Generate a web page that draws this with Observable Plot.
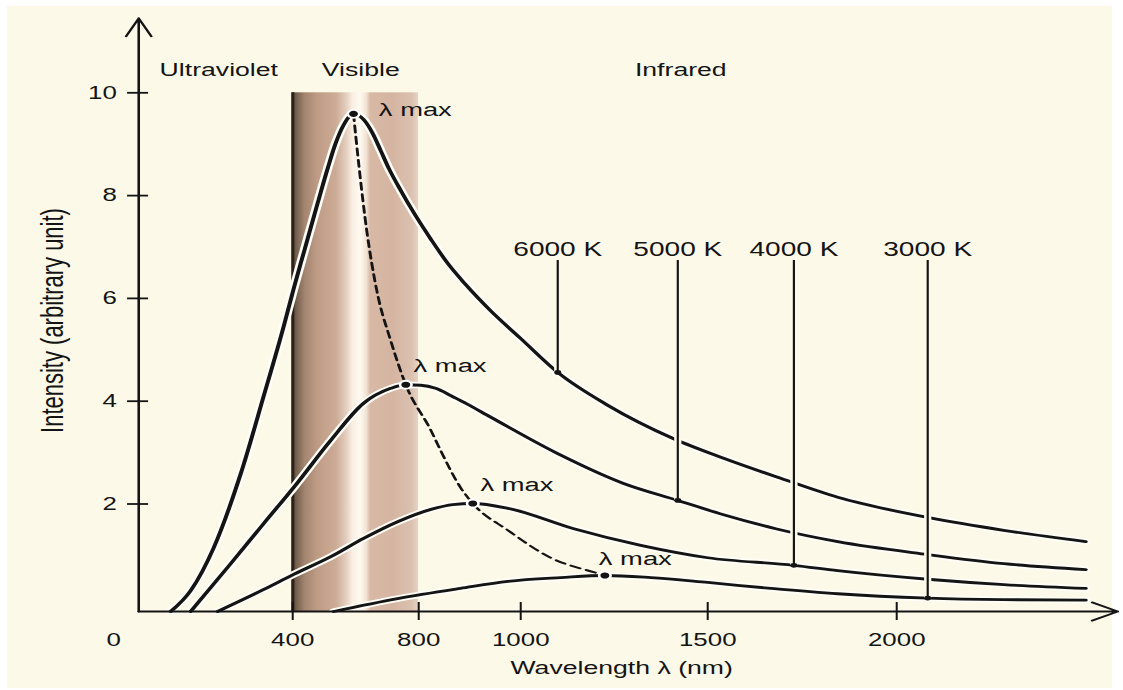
<!DOCTYPE html>
<html>
<head>
<meta charset="utf-8">
<script src="https://cdn.jsdelivr.net/npm/d3@7"></script>
<script src="https://cdn.jsdelivr.net/npm/@observablehq/plot@0.6"></script>
<style>
  html, body { margin: 0; padding: 0; background: #ffffff; width: 1123px; height: 690px; overflow: hidden; }
  #paper { position: absolute; left: 7px; top: 6px; width: 1105px; height: 682px; background: #fdf9e9; }
  #chart { position: absolute; left: 0; top: 0; }
</style>
</head>
<body>
<div id="paper"></div>
<div id="chart"></div>
<script>
// ---------------- data ----------------
const xTicks = [400, 800, 1000, 1500, 2000];
const yTicks = [2, 4, 6, 8, 10];
const xBreaks = [0, 400, 800, 1000, 1500, 2000, 2500];   // schematic (non-linear) wavelength axis
const originLabel = ["0"];

const temps = ["6000 K", "5000 K", "4000 K", "3000 K"];

const wl6000  = [83, 135, 195, 265, 325, 377, 403, 435, 479, 511, 537, 562, 593, 625, 654, 679, 705, 743, 784, 824, 857, 892, 941, 1000, 1099, 1233, 1409, 1542, 1693, 1844, 2082, 2283, 2500];
const int6000 = [0, 0.39, 1.19, 2.59, 4.11, 5.47, 6.19, 6.89, 7.85, 8.53, 9.03, 9.38, 9.59, 9.48, 9.21, 8.88, 8.53, 8.10, 7.67, 7.15, 6.68, 6.27, 5.76, 5.22, 4.56, 3.92, 3.27, 2.89, 2.50, 2.13, 1.75, 1.51, 1.30];

const wl5000  = [135, 239, 325, 403, 521, 625, 711, 759, 804, 833, 863, 892, 941, 1099, 1275, 1420, 1542, 1680, 1844, 2082, 2283, 2500];
const int5000 = [0, 0.89, 1.64, 2.32, 3.24, 3.96, 4.25, 4.32, 4.31, 4.25, 4.11, 3.96, 3.69, 2.98, 2.40, 2.07, 1.80, 1.54, 1.30, 1.06, 0.89, 0.78];

const wl4000  = [205, 325, 403, 521, 625, 733, 824, 867, 906, 975, 1142, 1321, 1500, 1728, 1844, 2082, 2283, 2500];
const int4000 = [0, 0.41, 0.69, 1.02, 1.36, 1.67, 1.90, 1.99, 2.01, 1.92, 1.54, 1.23, 1.00, 0.86, 0.76, 0.60, 0.50, 0.43];

const wl3000  = [530, 733, 882, 975, 1107, 1225, 1348, 1500, 1667, 1844, 2082, 2283, 2500];
const int3000 = [0, 0.24, 0.43, 0.56, 0.63, 0.67, 0.63, 0.54, 0.43, 0.33, 0.25, 0.22, 0.21];

const peakWl  = [593, 759, 906, 1225];      // λ max of each curve
const peakInt = [9.59, 4.32, 2.01, 0.67];

const tagWl  = [1099, 1420, 1728, 2082];    // where each temperature label points
const tagInt = [4.56, 2.07, 0.86, 0.25];

const wienWl  = [593, 610, 635, 667, 711, 759, 824, 843, 882, 906, 975, 1080, 1206, 1225];
const wienInt = [9.59, 8.59, 7.32, 6.15, 5.18, 4.32, 3.43, 3.04, 2.32, 2.01, 1.51, 1.00, 0.71, 0.67];

const regions  = ["Ultraviolet", "Visible", "Infrared"];
const regionWl = [208, 616, 1428];
const visibleBand = [400, 800];

const yLabel = "Intensity (arbitrary unit)";
const xLabel = "Wavelength λ (nm)";
const peakLabel = "λ max";

// ---------------- tables ----------------
const wls  = [wl6000, wl5000, wl4000, wl3000];
const ints = [int6000, int5000, int4000, int3000];
const curves = temps.flatMap((t, i) => wls[i].map((w, j) => ({temp: t, w, v: ints[i][j]})));
const peaks = temps.map((t, i) => ({temp: t, w: peakWl[i], v: peakInt[i]}));
const tags = temps.map((t, i) => ({temp: t, w: tagWl[i], v: tagInt[i]}));
const wien = wienWl.map((w, i) => ({w, v: wienInt[i]}));
const regionRows = regions.map((r, i) => ({name: r, w: regionWl[i]}));

// ---------------- layout ----------------
// The reference is a horizontally stretched drawing: draw in a narrower frame and stretch the SVG.
const W = 780, H = 690, S = 1123 / W;
const px = (v) => v / S;
const xRange = [138, 292, 418, 520, 707, 896, 1085].map(px);
const ink = "#141414";
const font = "'Liberation Sans', Arial, Helvetica, sans-serif";
const smooth = "monotone-x";

const svg = Plot.plot({
  width: W,
  height: H,
  marginLeft: px(138),
  marginRight: 13.25,
  marginTop: 29,
  marginBottom: 79,
  style: {fontFamily: font, fontSize: "18px", color: ink, background: "transparent", overflow: "visible"},
  x: {type: "linear", domain: xBreaks, range: xRange},
  y: {type: "linear", domain: [0, 2, 10], range: [611, 503.5, 92.3]},
  marks: [
    // visible band
    Plot.rect([visibleBand], {x1: (d) => d[0], x2: (d) => d[1], y1: 0, y2: 10, fill: "url(#visGrad)"}),
    Plot.ruleX([visibleBand[0]], {y1: 0, y2: 10, stroke: "#2b2119", strokeWidth: 2.1}),

    // halos of the curves
    Plot.line(curves, {x: "w", y: "v", z: "temp", stroke: "#fffdf7", strokeWidth: 6.5, curve: smooth}),

    // axes
    Plot.arrow([0], {x1: 0, x2: 0, y1: 0, y2: 11.45, stroke: ink, strokeWidth: 1.8, headAngle: 52, headLength: 16.7}),
    Plot.arrow([0], {x1: 0, x2: 2585, y1: 0, y2: 0, stroke: ink, strokeWidth: 1.8, headAngle: 54, headLength: 16.7}),
    Plot.axisX({ticks: xTicks, tickFormat: (d) => String(d), tickSize: 18, dy: -9, tickPadding: 13,
                fontSize: 18, strokeWidth: 1.4, label: null}),
    Plot.axisY({ticks: yTicks, tickFormat: (d) => String(d), tickSize: 14.6, dx: 7, tickPadding: 7.6,
                fontSize: 18, strokeWidth: 1.8, label: null}),
    Plot.text(originLabel, {x: 0, y: 0, text: (d) => d, dx: px(113 - 138), dy: 28.5, fontSize: 18, lineAnchor: "middle"}),

    // curves
    Plot.line(curves, {x: "w", y: "v", z: "temp", stroke: ink, strokeWidth: 2.8, curve: smooth}),

    // Wien displacement locus
    Plot.line(wien, {x: "w", y: "v", stroke: ink, strokeWidth: 2, strokeDasharray: "7,4.5", curve: smooth}),

    // temperature pointers
    Plot.ruleX(tags, {x: "w", y1: "v", y2: 6.737, stroke: "#fdf9e9", strokeWidth: 5}),
    Plot.ruleX(tags, {x: "w", y1: "v", y2: 6.737, stroke: ink, strokeWidth: 1.5}),
    Plot.dot(tags, {x: "w", y: "v", r: 2.4, fill: ink}),
    Plot.text(tags, {x: "w", text: "temp", frameAnchor: "top", dy: 213, fontSize: 19.5}),

    // peaks
    Plot.dot(peaks, {x: "w", y: "v", r: 4, fill: ink, stroke: "#ffffff", strokeWidth: 1.8}),
    Plot.text(peaks, {filter: (d) => d.temp === "6000 K", x: "w", y: "v", text: () => peakLabel,
                      textAnchor: "start", dx: 17.6, dy: -4.3, fontSize: 19}),
    Plot.text(peaks, {filter: (d) => d.temp === "5000 K" || d.temp === "4000 K", x: "w", y: "v", text: () => peakLabel,
                      textAnchor: "start", dx: 5.4, dy: -18.5, fontSize: 19}),
    Plot.text(peaks, {filter: (d) => d.temp === "3000 K", x: "w", y: "v", text: () => peakLabel,
                      textAnchor: "start", dx: -4.2, dy: -17, fontSize: 19}),

    // region names
    Plot.text(regionRows, {x: "w", text: "name", frameAnchor: "top", dy: 33, fontSize: 18.5}),

    // axis titles
    Plot.text([yLabel], {text: (d) => d, frameAnchor: "left", dx: px(52) - px(138), rotate: -90,
                         textAnchor: "middle", lineAnchor: "middle", fontSize: 22}),
    Plot.text([xLabel], {text: (d) => d, frameAnchor: "bottom", dy: 57, textAnchor: "middle",
                         lineAnchor: "middle", fontSize: 18.5})
  ]
});

// gradient for the visible band
const ns = "http://www.w3.org/2000/svg";
const defs = document.createElementNS(ns, "defs");
const grad = document.createElementNS(ns, "linearGradient");
grad.setAttribute("id", "visGrad");
grad.setAttribute("x1", "0"); grad.setAttribute("y1", "0");
grad.setAttribute("x2", "1"); grad.setAttribute("y2", "0");
[
  [0, "#3a2e24"], [0.03, "#725d4c"], [0.10, "#a38570"], [0.20, "#be9b85"], [0.35, "#cdac97"],
  [0.43, "#e4cfbf"], [0.48, "#f9efe3"], [0.54, "#fffaf1"], [0.59, "#f2e3d5"], [0.62, "#d8b9a6"],
  [0.80, "#d5b5a2"], [0.95, "#dbc1b0"], [1, "#e6d3c5"]
].forEach(([o, c]) => {
  const st = document.createElementNS(ns, "stop");
  st.setAttribute("offset", o);
  st.setAttribute("stop-color", c);
  grad.appendChild(st);
});
defs.appendChild(grad);
svg.insertBefore(defs, svg.firstChild);

// stretch horizontally like the reference drawing
svg.setAttribute("width", 1123);
svg.setAttribute("height", 690);
svg.setAttribute("preserveAspectRatio", "none");
svg.style.width = "1123px";
svg.style.height = "690px";
svg.style.maxWidth = "none";
svg.style.background = "transparent";
document.getElementById("chart").appendChild(svg);
</script>
</body>
</html>
